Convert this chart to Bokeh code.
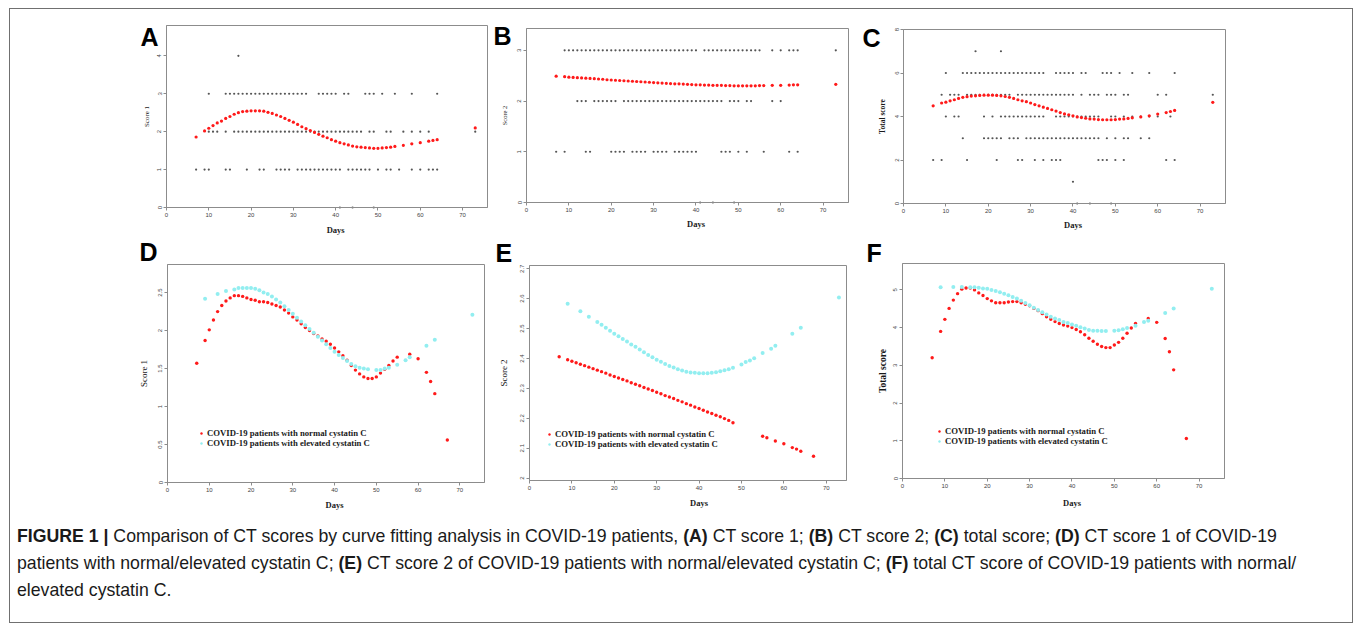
import math
from bokeh.plotting import figure
from bokeh.models import (Range1d, FixedTicker, Label, Legend, LegendItem, Div, Spacer,
                          BoxAnnotation)
from bokeh.layouts import row, column
from bokeh.embed import file_html
from bokeh.resources import INLINE

# ---------------- data ----------------
# Panel A: observed CT score 1 by day
a_obs4 = [17]
a_obs3 = [10, 14, 15, 16, 17, 18, 19, 20, 21, 22, 23, 24, 25, 26, 27, 28, 29, 30, 31, 32, 33,
          36, 37, 38, 39, 40, 42, 43, 47, 48, 49, 51, 54, 58, 64]
a_obs2 = [10, 11, 12, 14, 16, 17, 18, 19, 20, 21, 22, 23, 24, 25, 26, 27, 28, 29, 30, 31, 32, 33,
          34, 35, 36, 37, 38, 39, 40, 41, 42, 43, 44, 45, 46, 48, 49, 52, 53, 56, 58, 60, 62, 73]
a_obs1 = [7, 9, 10, 14, 15, 19, 22, 23, 26, 27, 28, 29, 31, 32, 33, 34, 35, 36, 37, 38, 39, 40, 41,
          43, 44, 45, 46, 47, 48, 50, 52, 53, 55, 58, 60, 62, 63, 64]
a_obs0 = [41, 44, 49]
a_fit_days = [7, 9, 10, 11, 12, 13, 14, 15, 16, 17, 18, 19, 20, 21, 22, 23, 24, 25, 26, 27, 28, 29,
              30, 31, 32, 33, 34, 35, 36, 37, 38, 39, 40, 41, 42, 43, 44, 45, 46, 47, 48, 49, 50, 51,
              52, 53, 54, 56, 58, 60, 62, 63, 64, 73]
a_fit = [1.86, 2.02, 2.09, 2.16, 2.23, 2.28, 2.35, 2.40, 2.46, 2.50, 2.53, 2.54, 2.55, 2.55, 2.55,
         2.54, 2.51, 2.48, 2.44, 2.40, 2.35, 2.30, 2.25, 2.19, 2.13, 2.08, 2.03, 1.98, 1.93, 1.88,
         1.84, 1.79, 1.75, 1.71, 1.68, 1.65, 1.62, 1.60, 1.59, 1.58, 1.57, 1.56, 1.56, 1.57, 1.58,
         1.59, 1.61, 1.64, 1.68, 1.71, 1.75, 1.77, 1.79, 2.10]

# Panel B: observed CT score 2 by day
b_obs3 = [9, 10, 11, 12, 13, 14, 15, 16, 17, 18, 19, 20, 21, 22, 23, 24, 25, 26, 27, 28, 29, 30,
          31, 32, 33, 34, 35, 36, 37, 38, 39, 40, 42, 43, 44, 45, 46, 47, 48, 49, 50, 51, 52, 53,
          54, 55, 58, 60, 62, 63, 64, 73]
b_obs2 = [12, 13, 14, 16, 17, 18, 19, 20, 21, 23, 24, 25, 26, 27, 28, 29, 30, 31, 32, 33, 34, 35,
          36, 37, 38, 39, 40, 41, 42, 43, 44, 45, 46, 48, 49, 50, 52, 53, 58, 60]
b_obs1 = [7, 9, 14, 15, 20, 21, 22, 23, 25, 26, 27, 28, 30, 31, 32, 33, 35, 36, 37, 38, 39, 40,
          46, 47, 48, 50, 52, 56, 62, 64]
b_obs0 = [41, 44, 49]
b_fit_days = [7, 9, 10, 11, 12, 13, 14, 15, 16, 17, 18, 19, 20, 21, 22, 23, 24, 25, 26, 27, 28, 29,
              30, 31, 32, 33, 34, 35, 36, 37, 38, 39, 40, 41, 42, 43, 44, 45, 46, 47, 48, 49, 50, 51,
              52, 53, 54, 55, 56, 58, 60, 62, 63, 64, 73]
b_fit = [2.49, 2.48, 2.47, 2.465, 2.46, 2.455, 2.45, 2.445, 2.44, 2.435, 2.43, 2.42, 2.415, 2.41,
         2.405, 2.40, 2.395, 2.39, 2.385, 2.38, 2.375, 2.37, 2.365, 2.36, 2.355, 2.35, 2.345, 2.34,
         2.34, 2.335, 2.33, 2.325, 2.32, 2.32, 2.315, 2.315, 2.31, 2.31, 2.31, 2.305, 2.305, 2.30,
         2.30, 2.30, 2.30, 2.30, 2.30, 2.305, 2.305, 2.31, 2.31, 2.315, 2.32, 2.32, 2.33]

# Panel C: observed total score by day
c_obs7 = [17, 23]
c_obs6 = [10, 14, 15, 16, 17, 18, 19, 20, 21, 22, 23, 24, 25, 26, 27, 28, 29, 30, 31, 32, 33,
          36, 37, 38, 39, 40, 42, 43, 47, 48, 49, 51, 54, 58, 64]
c_obs5 = [9, 11, 12, 13, 15, 16, 17, 18, 19, 20, 21, 22, 23, 24, 25, 27, 28, 29, 30, 31, 32, 33,
          34, 35, 36, 37, 38, 39, 40, 42, 44, 45, 46, 48, 49, 50, 52, 53, 60, 62, 73]
c_obs4 = [10, 12, 13, 19, 21, 23, 24, 25, 26, 27, 28, 29, 30, 31, 32, 33, 36, 37, 38, 39, 40, 41,
          42, 43, 44, 45, 46, 49, 50, 52, 54, 56, 58, 60, 63]
c_obs3 = [14, 19, 20, 21, 22, 23, 25, 26, 27, 29, 30, 31, 32, 33, 34, 35, 36, 37, 38, 39, 40, 41,
          42, 43, 44, 45, 46, 48, 50, 52, 53, 56, 58]
c_obs2 = [7, 9, 15, 22, 27, 28, 31, 33, 35, 36, 37, 46, 47, 48, 50, 52, 62, 64]
c_obs1 = [40]
c_obs0 = [41, 44, 49]
c_fit_days = [7, 9, 10, 11, 12, 13, 14, 15, 16, 17, 18, 19, 20, 21, 22, 23, 24, 25, 26, 27, 28, 29,
              30, 31, 32, 33, 34, 35, 36, 37, 38, 39, 40, 41, 42, 43, 44, 45, 46, 47, 48, 49, 50, 51,
              52, 53, 54, 56, 58, 60, 62, 63, 64, 73]
c_fit = [4.49, 4.62, 4.66, 4.72, 4.77, 4.83, 4.88, 4.91, 4.94, 4.95, 4.97, 4.98, 4.98, 4.98, 4.97,
         4.95, 4.92, 4.88, 4.83, 4.77, 4.72, 4.68, 4.62, 4.55, 4.49, 4.43, 4.37, 4.31, 4.25, 4.18,
         4.12, 4.08, 4.03, 3.98, 3.95, 3.92, 3.89, 3.88, 3.86, 3.85, 3.85, 3.85, 3.86, 3.88, 3.89,
         3.91, 3.94, 3.98, 4.03, 4.11, 4.18, 4.23, 4.28, 4.65]

# Panels D-F: fitted curves, normal vs elevated cystatin C
d_norm_days = [7, 9, 10, 11, 12, 13, 14, 15, 16, 17, 18, 19, 20, 21, 22, 23, 24, 25, 26, 27, 28, 29,
               30, 31, 32, 33, 34, 35, 36, 37, 38, 39, 40, 41, 42, 43, 44, 45, 46, 47, 48, 49, 50,
               51, 52, 53, 54, 55, 58, 60, 62, 63, 64, 67]
d_norm = [1.57, 1.87, 2.01, 2.14, 2.25, 2.33, 2.39, 2.43, 2.46, 2.46, 2.45, 2.43, 2.41, 2.40, 2.38,
          2.38, 2.37, 2.35, 2.33, 2.31, 2.27, 2.23, 2.18, 2.14, 2.09, 2.04, 2.00, 1.96, 1.93, 1.89,
          1.86, 1.82, 1.77, 1.72, 1.67, 1.61, 1.54, 1.48, 1.43, 1.39, 1.37, 1.37, 1.39, 1.44, 1.49,
          1.54, 1.60, 1.65, 1.69, 1.63, 1.45, 1.33, 1.17, 0.56]
elev_days = [9, 12, 14, 16, 17, 18, 19, 20, 21, 22, 23, 24, 25, 26, 27, 28, 29, 30, 31, 32, 33, 34,
             35, 36, 37, 38, 39, 40, 41, 42, 43, 44, 45, 46, 47, 48, 50, 51, 52, 53, 55, 57, 58, 62,
             64, 73]
d_elev = [2.42, 2.48, 2.52, 2.54, 2.56, 2.56, 2.56, 2.56, 2.55, 2.53, 2.50, 2.48, 2.45, 2.41, 2.37,
          2.32, 2.27, 2.22, 2.17, 2.12, 2.07, 2.02, 1.97, 1.92, 1.87, 1.82, 1.77, 1.72, 1.68, 1.64,
          1.60, 1.56, 1.53, 1.51, 1.50, 1.49, 1.48, 1.48, 1.50, 1.51, 1.55, 1.61, 1.65, 1.80, 1.88,
          2.21]

e_norm_days = [7, 9, 10, 11, 12, 13, 14, 15, 16, 17, 18, 19, 20, 21, 22, 23, 24, 25, 26, 27, 28, 29,
               30, 31, 32, 33, 34, 35, 36, 37, 38, 39, 40, 41, 42, 43, 44, 45, 46, 47, 48,
               55, 56, 58, 60, 62, 63, 64, 67]
e_norm = [2.406, 2.396, 2.391, 2.386, 2.381, 2.376, 2.371, 2.366, 2.361, 2.356, 2.351, 2.345, 2.340,
          2.335, 2.330, 2.325, 2.319, 2.314, 2.309, 2.303, 2.298, 2.293, 2.287, 2.282, 2.276, 2.271,
          2.266, 2.260, 2.255, 2.249, 2.244, 2.238, 2.233, 2.227, 2.221, 2.216, 2.210, 2.205, 2.199,
          2.193, 2.185, 2.140, 2.135, 2.124, 2.115, 2.102, 2.097, 2.090, 2.073]
e_elev = [2.583, 2.558, 2.540, 2.522, 2.513, 2.503, 2.493, 2.483, 2.474, 2.465, 2.457, 2.447, 2.439,
          2.430, 2.421, 2.412, 2.404, 2.396, 2.389, 2.382, 2.375, 2.370, 2.364, 2.360, 2.356, 2.353,
          2.352, 2.351, 2.351, 2.351, 2.352, 2.354, 2.357, 2.361, 2.364, 2.369, 2.380, 2.388, 2.393,
          2.401, 2.418, 2.433, 2.443, 2.483, 2.503, 2.604]

f_norm_days = d_norm_days
f_norm = [3.20, 3.90, 4.22, 4.51, 4.73, 4.90, 5.02, 5.05, 5.05, 5.00, 4.92, 4.85, 4.77, 4.71, 4.66,
          4.66, 4.66, 4.68, 4.69, 4.69, 4.66, 4.62, 4.58, 4.51, 4.45, 4.37, 4.29, 4.22, 4.16, 4.11,
          4.07, 4.04, 4.00, 3.95, 3.89, 3.81, 3.72, 3.64, 3.56, 3.50, 3.47, 3.47, 3.54, 3.61, 3.72,
          3.85, 3.99, 4.11, 4.24, 4.14, 3.71, 3.36, 2.88, 1.06]
f_elev = [5.07, 5.08, 5.08, 5.07, 5.07, 5.06, 5.04, 5.03, 5.00, 4.97, 4.94, 4.90, 4.86, 4.81, 4.77,
          4.71, 4.65, 4.59, 4.53, 4.47, 4.41, 4.35, 4.29, 4.24, 4.20, 4.15, 4.12, 4.08, 4.05, 4.01,
          3.98, 3.94, 3.92, 3.92, 3.91, 3.91, 3.92, 3.93, 3.96, 3.99, 4.05, 4.15, 4.18, 4.39, 4.51,
          5.03]

day_ticks = [0, 10, 20, 30, 40, 50, 60, 70]
legend_labels = ["COVID-19 patients with normal cystatin C",
                 "COVID-19 patients with elevated cystatin C"]

GRAY = "#8c8c8c"
RED = "#ff1a1a"
CYAN = "#92eef0"


def make_panel(letter, canvas, box, xmax, ylim, yticks, ylabel, ylab_size, ylab_bold, ylab_dx,
               days_dy, letter_pos, yover=None):
    """canvas/box are (left, top, width, height) in page pixels; the plot box spans
    days 0..xmax and ylim; the whole canvas is the bokeh frame."""
    cx, cy, cw, ch = canvas
    bx, by, bw, bh = box
    ymin, ymax = ylim
    kx = xmax / bw
    ky = (ymax - ymin) / bh
    x0 = -(bx - cx) * kx
    x1 = xmax + (cx + cw - bx - bw) * kx
    y1 = ymax + (by - cy) * ky
    y0 = ymin - (cy + ch - by - bh) * ky
    p = figure(width=cw, height=ch, x_range=Range1d(x0, x1), y_range=Range1d(y0, y1),
               output_backend="svg", toolbar_location=None, min_border=0)
    p.title.visible = False
    p.grid.visible = False
    p.outline_line_color = None
    p.add_layout(BoxAnnotation(left=0, right=xmax, bottom=ymin, top=ymax, fill_color=None,
                               fill_alpha=0, line_color=GRAY, line_alpha=1, line_width=1,
                               level="underlay"))
    for ax in (p.xaxis[0], p.yaxis[0]):
        ax.axis_line_color = GRAY
        ax.major_tick_line_color = GRAY
        ax.major_tick_out = 3
        ax.major_tick_in = 0
        ax.minor_tick_out = 0
        ax.minor_tick_in = 0
        ax.major_label_text_font = "Liberation Sans"
        ax.major_label_text_font_size = "6px"
        ax.major_label_text_color = "#444444"
        ax.major_label_standoff = 2
    p.xaxis.ticker = FixedTicker(ticks=day_ticks)
    p.xaxis.fixed_location = ymin
    p.xaxis.bounds = (0, xmax)
    p.yaxis.ticker = FixedTicker(ticks=yticks)
    p.yaxis.fixed_location = 0
    p.yaxis.bounds = (ymin, ymax)
    p.yaxis.major_label_orientation = "vertical"
    if yover:
        p.yaxis.major_label_overrides = yover
    # axis titles
    p.add_layout(Label(x=40, y=ymin, y_offset=-days_dy, text="Days", text_font="Liberation Serif",
                       text_font_style="bold", text_font_size="8.5px", text_color="#1a1a1a",
                       text_align="center", text_baseline="middle"))
    p.add_layout(Label(x=0, y=(ymin + ymax) / 2, x_offset=-ylab_dx, text=ylabel,
                       angle=math.pi / 2, text_font="Liberation Serif",
                       text_font_style="bold" if ylab_bold else "normal",
                       text_font_size=ylab_size, text_color="#1a1a1a",
                       text_align="center", text_baseline="middle"))
    # panel letter: letter_pos = (left, vertical centre) in page pixels
    p.add_layout(Label(x=letter_pos[0] - cx, y=cy + ch - letter_pos[1], x_units="screen",
                       y_units="screen", text=letter, text_font="Liberation Sans",
                       text_font_style="bold", text_font_size="25px", text_color="#000000",
                       text_baseline="middle", text_align="left"))
    return p


def obs(p, days, level):
    p.scatter(days, [level] * len(days), size=2.2, color="#555555", line_color=None)


def add_legend(p, r1, r2, canvas, glyph_left, bottom):
    cx, cy, cw, ch = canvas
    lg = Legend(items=[LegendItem(label=legend_labels[0], renderers=[r1]),
                       LegendItem(label=legend_labels[1], renderers=[r2])],
                location=(glyph_left - cx, cy + ch - bottom), background_fill_alpha=0,
                border_line_alpha=0, label_text_font="Liberation Serif",
                label_text_font_style="bold", label_text_font_size="8.7px",
                label_text_color="#1a1a1a", glyph_width=6, glyph_height=8, label_height=8,
                spacing=-1, padding=0, margin=0, label_standoff=3)
    p.add_layout(lg)


# ---------------- row 1 (page pixels) ----------------
cA, cB, cC = (128, 9, 360, 228), (488, 9, 370, 228), (858, 9, 372, 228)
pA = make_panel("A", cA, (166, 25, 321, 182), 75.9, (0, 4.8), [0, 1, 2, 3, 4], "Score 1", "7px",
                False, 20, 22, (140, 36))
for lv, dd in [(4, a_obs4), (3, a_obs3), (2, a_obs2), (1, a_obs1), (0, a_obs0)]:
    obs(pA, dd, lv)
pA.scatter(a_fit_days, a_fit, size=3.2, color=RED, line_color=None)

pB = make_panel("B", cB, (526, 28, 322, 174), 76.0, (0, 3.43), [0, 1, 2, 3], "Score 2", "6.5px",
                False, 22, 21, (493, 35))
for lv, dd in [(3, b_obs3), (2, b_obs2), (1, b_obs1), (0, b_obs0)]:
    obs(pB, dd, lv)
pB.scatter(b_fit_days, b_fit, size=3.2, color=RED, line_color=None)

pC = make_panel("C", cC, (903, 29, 322, 174), 76.0, (0, 8), [0, 2, 4, 6, 8], "Total score",
                "7.5px", True, 21, 21, (862, 37))
for lv, dd in [(7, c_obs7), (6, c_obs6), (5, c_obs5), (4, c_obs4), (3, c_obs3), (2, c_obs2),
               (1, c_obs1), (0, c_obs0)]:
    obs(pC, dd, lv)
pC.scatter(c_fit_days, c_fit, size=3.2, color=RED, line_color=None)

# ---------------- row 2 ----------------
cD, cE, cF = (128, 237, 363, 275), (491, 237, 369, 275), (860, 237, 370, 275)
pD = make_panel("D", cD, (167, 264, 317, 218), 75.9, (0, 2.87), [0, 0.5, 1.0, 1.5, 2.0, 2.5],
                "Score 1", "9px", False, 24, 22, (139, 251), yover={0: "0"})
rD1 = pD.scatter(d_norm_days, d_norm, size=3.4, color=RED, line_color=None)
rD2 = pD.scatter(elev_days, d_elev, size=4, color=CYAN, line_color=None)
add_legend(pD, rD1, rD2, cD, 198, 448)

pE = make_panel("E", cE, (529, 265, 317, 215), 317 / 4.239, (1.992, 2.711),
                [2.0, 2.1, 2.2, 2.3, 2.4, 2.5, 2.6, 2.7], "Score 2", "9px", False, 26, 22,
                (495, 252))
rE1 = pE.scatter(e_norm_days, e_norm, size=3.4, color=RED, line_color=None)
rE2 = pE.scatter(elev_days, e_elev, size=4, color=CYAN, line_color=None)
add_legend(pE, rE1, rE2, cE, 546, 449)

pF = make_panel("F", cF, (902, 263, 322, 215), 76.0, (0, 5.70), [0, 1, 2, 3, 4, 5],
                "Total score", "9.5px", True, 20, 24, (866, 252))
rF1 = pF.scatter(f_norm_days, f_norm, size=3.4, color=RED, line_color=None)
rF2 = pF.scatter(elev_days, f_elev, size=4, color=CYAN, line_color=None)
add_legend(pF, rF1, rF2, cF, 936, 446)

# ---------------- caption ----------------
cap_html = (
    '<div style="font-family:\'Liberation Sans\',Arial,sans-serif;font-size:17.7px;line-height:27px;'
    'color:#1a1a1a;white-space:nowrap;padding-left:7px;padding-top:10.5px;">'
    '<b>FIGURE 1 |</b> Comparison of CT scores by curve fitting analysis in COVID-19 patients, '
    '<b>(A)</b> CT score 1; <b>(B)</b> CT score 2; <b>(C)</b> total score; <b>(D)</b> CT score 1 of COVID-19<br>'
    'patients with normal/elevated cystatin C; <b>(E)</b> CT score 2 of COVID-19 patients with '
    'normal/elevated cystatin C; <b>(F)</b> total CT score of COVID-19 patients with normal/<br>'
    'elevated cystatin C.</div>'
)
caption = Div(text=cap_html, width=1342, height=110, margin=(0, 0, 0, 0))

row1 = row(Spacer(width=cA[0] - 10, height=228), pA, pB, pC)
row2 = row(Spacer(width=cD[0] - 10, height=275), pD, pE, pF)
root = column(row1, row2, caption, margin=(8, 0, 0, 9),
              styles={"border": "1px solid #707070"})

open("out.html", "w").write(file_html(root, INLINE))
